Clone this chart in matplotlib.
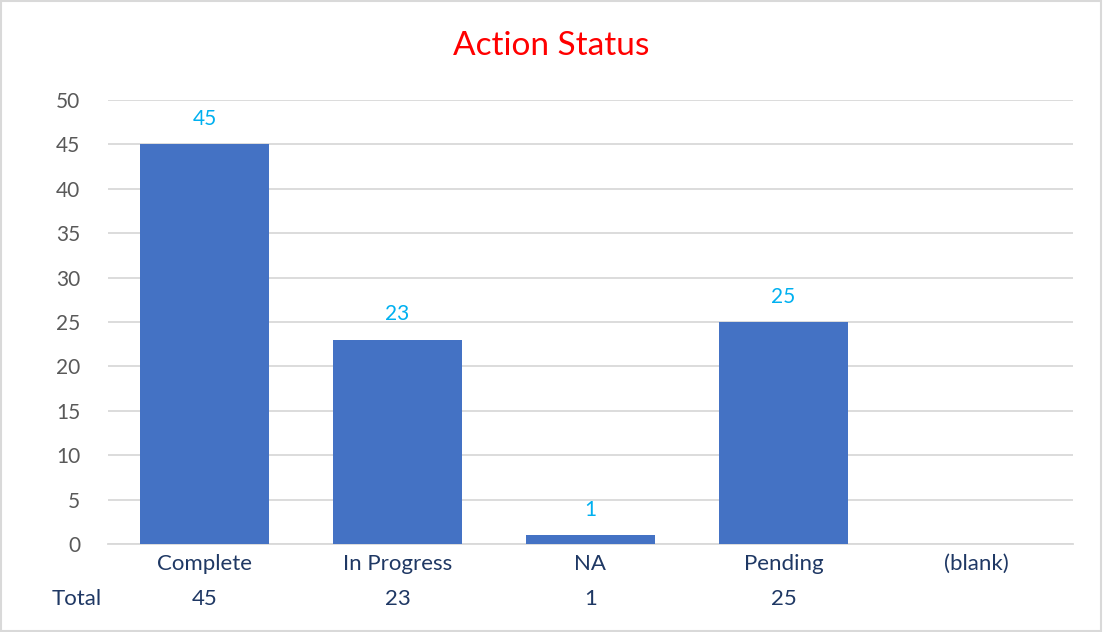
import matplotlib.pyplot as plt
from matplotlib.patches import Rectangle

categories = ['Complete', 'In Progress', 'NA', 'Pending', '(blank)']
totals = [45, 23, 1, 25, None]

plt.rcParams['font.family'] = ['Lato', 'DejaVu Sans']

fig = plt.figure(figsize=(11.03, 6.32), dpi=100)
ax = fig.add_axes([108 / 1103, 1 - 544 / 632, 965 / 1103, 444 / 632])

xs = list(range(len(categories)))
vals = [v if v is not None else 0 for v in totals]
bars = ax.bar(xs, vals, width=0.67, color='#4472C4', zorder=3)

# data labels above the bars
for x, v in zip(xs, totals):
    if v is None:
        continue
    ax.annotate(str(v), (x, v), xytext=(0, 11), textcoords='offset points',
                ha='center', va='bottom', color='#00B0F0', fontsize=15)

ax.set_xlim(-0.5, len(categories) - 0.5)
ax.set_ylim(0, 50)
ax.set_yticks(range(0, 51, 5))
ax.grid(axis='y', color='#D9D9D9', linewidth=1.3, zorder=0)
for side in ['top', 'right', 'left']:
    ax.spines[side].set_visible(False)
ax.spines['bottom'].set_color('#D9D9D9')
ax.spines['bottom'].set_linewidth(1.3)
ax.tick_params(axis='both', length=0)
ax.tick_params(axis='y', labelcolor='#595959', labelsize=15, pad=20)
ax.set_xticks(xs)
ax.set_xticklabels(categories, color='#1F3864', fontsize=16)
ax.tick_params(axis='x', pad=7)

# data table row
fig.text(77 / 1103, 1 - 599 / 632, 'Total', ha='center', va='center',
         color='#1F3864', fontsize=16)
for x, v in zip(xs, totals):
    if v is None:
        continue
    xf = ax.transData.transform((x, 0))[0] / fig.bbox.width
    fig.text(xf, 1 - 599 / 632, str(v), ha='center', va='center',
             color='#1F3864', fontsize=16)

fig.suptitle('Action Status', color='#FF0000', fontsize=24, y=1 - 46 / 632,
             va='center')

fig.patches.append(Rectangle((0.001, 0.002), 0.997, 0.996, transform=fig.transFigure,
                             fill=False, edgecolor='#D9D9D9', linewidth=1.5))

fig.savefig('out.png', dpi=100)
